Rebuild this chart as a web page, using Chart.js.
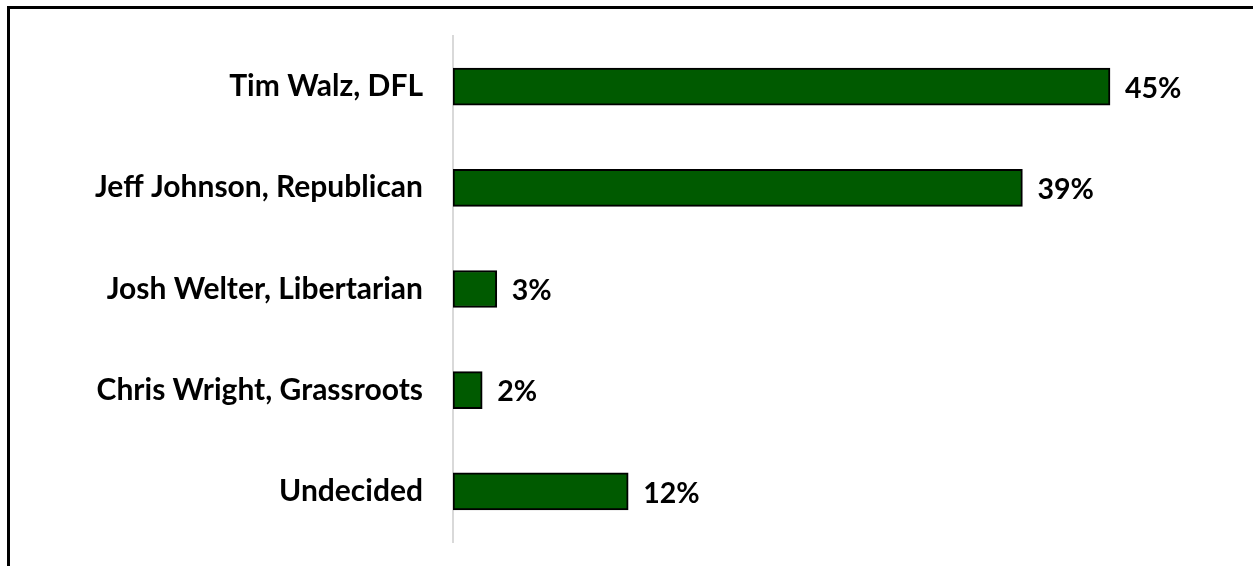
<!DOCTYPE html>
<html>
<head>
<meta charset="utf-8">
<script src="https://cdn.jsdelivr.net/npm/chart.js@4"></script>
<style>
  html, body { margin: 0; padding: 0; background: #fff; }
  #wrap { position: relative; width: 1253px; height: 566px; }
  #frame {
    position: absolute; left: 7px; top: 6px; right: -10px; bottom: -10px;
    border-left: 3px solid #000; border-top: 3px solid #000;
    pointer-events: none;
  }
</style>
</head>
<body>
<div id="wrap">
  <canvas id="poll-chart"></canvas>
  <div id="frame"></div>
</div>
<script>
// Poll results
const candidates = [
    'Tim Walz, DFL',
    'Jeff Johnson, Republican',
    'Josh Welter, Libertarian',
    'Chris Wright, Grassroots',
    'Undecided'
];
const shares = [45, 39, 3, 2, 12];

const labelFont = { family: 'Lato', weight: 'bold', size: 30 };
const valueFont = { family: 'Lato', weight: 'bold', size: 28.5 };

// draws "45%" etc. just past the end of each bar
const valueLabels = {
    id: 'valueLabels',
    afterDatasetsDraw(chart) {
        const ctx = chart.ctx;
        const meta = chart.getDatasetMeta(0);
        ctx.save();
        ctx.font = `bold ${valueFont.size}px ${valueFont.family}`;
        ctx.fillStyle = '#000';
        ctx.textAlign = 'left';
        ctx.textBaseline = 'middle';
        meta.data.forEach((bar, i) => {
            ctx.fillText(shares[i] + '%', bar.x + 15, bar.y + 2);
        });
        ctx.restore();
    }
};

const ctx = document.getElementById('poll-chart');

new Chart(ctx, {
    type: 'bar',
    data: {
        labels: candidates,
        datasets: [{
            data: shares,
            backgroundColor: '#005a00',
            borderColor: '#000',
            borderWidth: 2,
            borderSkipped: false,
            barThickness: 37
        }]
    },
    options: {
        indexAxis: 'y',
        responsive: true,
        maintainAspectRatio: false,
        animation: false,
        layout: {
            padding: { left: 0, right: 70, top: 36, bottom: 24 }
        },
        scales: {
            x: {
                display: false,
                min: 0,
                max: 50
            },
            y: {
                grid: { display: false, drawTicks: false },
                border: { display: true, color: '#d9d9d9', width: 2 },
                ticks: {
                    color: '#000',
                    font: labelFont,
                    padding: 30
                },
                afterFit(scale) {
                    // fixed axis position; tick padding shouldn't push the plot in vertically
                    scale.width = 453;
                    scale.paddingTop = 0;
                    scale.paddingBottom = 0;
                }
            }
        },
        plugins: {
            legend: { display: false },
            tooltip: { enabled: false }
        }
    },
    plugins: [valueLabels]
});
</script>
</body>
</html>
